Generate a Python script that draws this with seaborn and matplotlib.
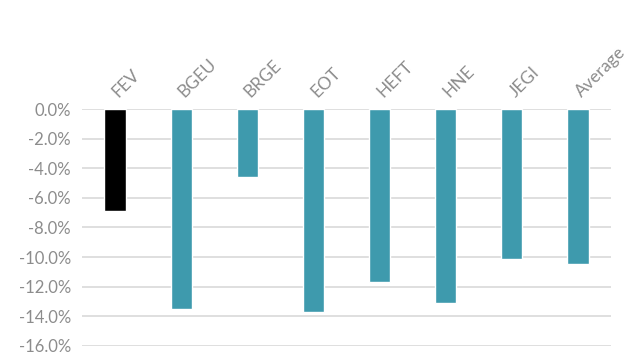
import matplotlib
matplotlib.use("Agg")
import matplotlib.pyplot as plt
import seaborn as sns
import pandas as pd
from matplotlib.ticker import FuncFormatter

categories = ["FEV", "BGEU", "BRGE", "EOT", "HEFT", "HNE", "JEGI", "Average"]
values = [-6.9, -13.5, -4.6, -13.7, -11.7, -13.1, -10.1, -10.5]
colors = ["#000000"] + ["#3e9aad"] * 7
yticks = [0, -2, -4, -6, -8, -10, -12, -14, -16]

sns.set_theme(style="white")
plt.rcParams["font.family"] = ["Lato", "DejaVu Sans"]

df = pd.DataFrame({"cat": categories, "val": values})

fig = plt.figure(figsize=(6.3, 3.56), dpi=100)
ax = fig.add_axes([0.130, 0.029, 0.840, 0.664])

sns.barplot(data=df, x="cat", y="val", hue="cat", palette=colors, legend=False,
            width=0.32, ax=ax, saturation=1)

ax.set_ylim(-16, 0)
ax.set_yticks(yticks)
ax.yaxis.set_major_formatter(FuncFormatter(lambda v, p: f"{v:.1f}%"))
ax.grid(axis="y", color="#d9d9d9", linewidth=1.2)
ax.set_axisbelow(True)
for s in ax.spines.values():
    s.set_visible(False)
ax.set_xlabel("")
ax.set_ylabel("")
ax.xaxis.tick_top()
ax.tick_params(axis="both", length=0, colors="#8c8c8c", labelsize=12, pad=8)
ax.tick_params(axis="x", pad=11, labelsize=12.5)
for lbl in ax.get_xticklabels():
    lbl.set_rotation(45)
    lbl.set_ha("left")
    lbl.set_va("center")
    lbl.set_rotation_mode("anchor")
ax.set_xlim(-0.5, len(categories) - 0.5)

fig.savefig("out.png", dpi=100)
